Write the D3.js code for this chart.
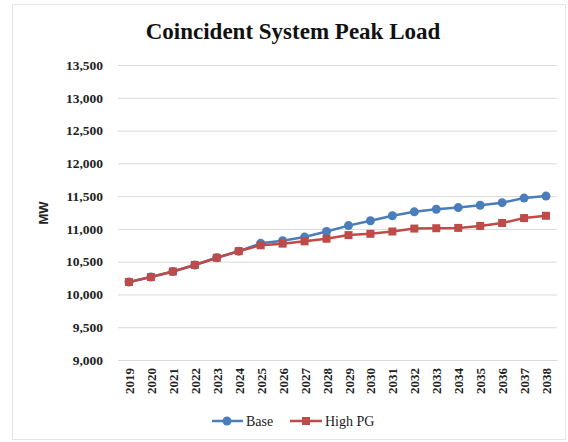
<!DOCTYPE html>
<html><head><meta charset="utf-8">
<script src="https://cdn.jsdelivr.net/npm/d3@7"></script>
<style>body{margin:0;background:#fff}</style>
</head><body>
<script>
const years = ["2019","2020","2021","2022","2023","2024","2025","2026","2027","2028","2029","2030","2031","2032","2033","2034","2035","2036","2037","2038"];
const base = [10190,10265,10350,10450,10560,10660,10780,10820,10875,10960,11050,11125,11200,11260,11300,11325,11360,11400,11470,11500];
const highPG = [10190,10265,10350,10450,10560,10660,10750,10775,10810,10850,10905,10925,10960,11005,11010,11015,11045,11090,11165,11200];
const yTicks = [9000,9500,10000,10500,11000,11500,12000,12500,13000,13500];
const seriesNames = ["Base","High PG"];
const colors = ["#4a7ebb","#be4b48"];

const W=568,H=442;
const svg=d3.select("body").append("svg").attr("width",W).attr("height",H);
svg.append("rect").attr("x",12.5).attr("y",4.5).attr("width",553).attr("height",435)
  .attr("fill","#fff").attr("stroke","#e6e6e6");

const x=d3.scalePoint().domain(years).range([118,557]).padding(0.5);
const y=d3.scaleLinear().domain([9000,13500]).range([360,65]);

svg.append("text").attr("x",293).attr("y",39).attr("text-anchor","middle")
  .attr("font-family","Liberation Serif").attr("font-weight","bold").attr("font-size",23)
  .attr("fill","#111").text("Coincident System Peak Load");

const ya=svg.append("g").attr("transform","translate(118,0)")
  .call(d3.axisLeft(y).tickValues(yTicks).tickSize(-439).tickFormat(d3.format(",")));
ya.select(".domain").remove();
ya.selectAll(".tick line").attr("stroke","#d9d9d9");
ya.selectAll(".tick text").attr("x",-15).attr("font-family","Liberation Serif")
  .attr("font-weight","bold").attr("font-size",13.5).attr("fill","#222");

const xa=svg.append("g").attr("transform","translate(0,360)")
  .call(d3.axisBottom(x).tickSize(0));
xa.select(".domain").attr("stroke","#d9d9d9");
xa.selectAll(".tick text").attr("transform","rotate(-90)").attr("text-anchor","end")
  .attr("x",-8).attr("y",0).attr("dy","0.35em").attr("font-family","Liberation Serif")
  .attr("font-weight","bold").attr("font-size",13).attr("fill","#222");

svg.append("text").attr("transform","translate(48,213) rotate(-90)").attr("text-anchor","middle")
  .attr("font-family","Liberation Sans").attr("font-weight","bold").attr("font-size",13).attr("fill","#222")
  .text("MW");

const line=d3.line().x((d,i)=>x(years[i])).y(d=>y(d));
const data=[base,highPG];
data.forEach((s,k)=>{
  svg.append("path").datum(s).attr("d",line).attr("fill","none")
    .attr("stroke",colors[k]).attr("stroke-width",2.5);
});
svg.selectAll(".c").data(base).enter().append("circle")
  .attr("cx",(d,i)=>x(years[i])).attr("cy",d=>y(d)).attr("r",4.5).attr("fill",colors[0]);
svg.selectAll(".s").data(highPG).enter().append("rect")
  .attr("x",(d,i)=>x(years[i])-4).attr("y",d=>y(d)-4).attr("width",8).attr("height",8).attr("fill",colors[1]);

// legend
const ly=421;
const lg=svg.append("g");
lg.append("line").attr("x1",212).attr("x2",243).attr("y1",ly).attr("y2",ly).attr("stroke",colors[0]).attr("stroke-width",2.5);
lg.append("circle").attr("cx",227).attr("cy",ly).attr("r",4.5).attr("fill",colors[0]);
lg.append("text").attr("x",246).attr("y",ly+5).text(seriesNames[0])
  .attr("font-family","Liberation Serif").attr("font-size",14).attr("fill","#222");
lg.append("line").attr("x1",290).attr("x2",322).attr("y1",ly).attr("y2",ly).attr("stroke",colors[1]).attr("stroke-width",2.5);
lg.append("rect").attr("x",302).attr("y",ly-4).attr("width",8).attr("height",8).attr("fill",colors[1]);
lg.append("text").attr("x",325).attr("y",ly+5).text(seriesNames[1])
  .attr("font-family","Liberation Serif").attr("font-size",14).attr("fill","#222");
</script>
</body></html>
